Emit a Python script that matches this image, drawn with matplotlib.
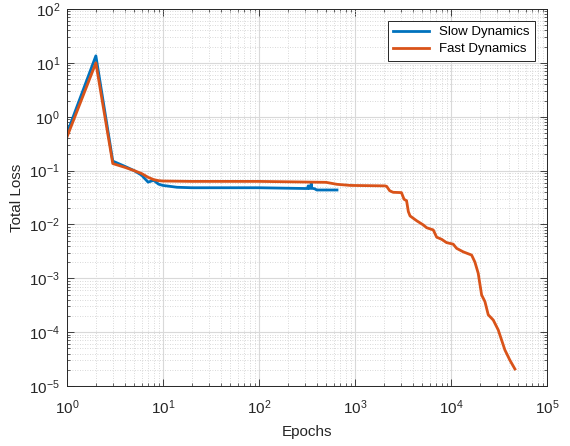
import matplotlib
matplotlib.use('Agg')
import matplotlib.pyplot as plt
from matplotlib.ticker import LogLocator, LogFormatterMathtext, NullFormatter

plt.rcParams['font.family'] = ['Liberation Sans', 'DejaVu Sans']
plt.rcParams['mathtext.fontset'] = 'custom'
plt.rcParams['mathtext.rm'] = 'Liberation Sans'
plt.rcParams['mathtext.it'] = 'Liberation Sans'
plt.rcParams['mathtext.default'] = 'regular'

# Data
slow_epochs = [1, 2, 3, 4, 5, 6, 7, 8, 9, 10, 14, 20, 100, 300, 320, 326, 332,
               345, 350, 355, 380, 400, 650]
slow_loss = [0.49, 13.5, 0.15, 0.12, 0.10, 0.082, 0.061, 0.066, 0.056, 0.053,
             0.049, 0.048, 0.048, 0.0465, 0.0465, 0.052, 0.0465, 0.047, 0.058,
             0.047, 0.046, 0.0436, 0.0436]

fast_epochs = [1, 2, 3, 4, 5, 6, 7, 8, 9, 10, 20, 100, 500, 650, 900, 2050,
               2140, 2300, 2500, 3050, 3250, 3450, 3600, 3750, 4400, 5150,
               5580, 6550, 7100, 8000, 9000, 10570, 11460, 13430, 16430,
               17780, 19240, 20880, 22600, 24480, 27600, 31100, 36500, 41200,
               46400]
fast_loss = [0.42, 10.0, 0.135, 0.115, 0.10, 0.088, 0.075, 0.068, 0.065, 0.064,
             0.063, 0.063, 0.0605, 0.0556, 0.053, 0.052, 0.051, 0.0423, 0.0395,
             0.039, 0.0293, 0.0276, 0.0173, 0.0144, 0.0117, 0.0098, 0.0087,
             0.0079, 0.0058, 0.0053, 0.0046, 0.0043, 0.0036, 0.0031, 0.0027,
             0.0020, 0.00124, 0.00049, 0.00037, 0.00021, 0.000168, 0.00011,
             4.67e-5, 3.0e-5, 2.07e-5]

fig = plt.figure(figsize=(5.7, 4.46), dpi=100)
ax = fig.add_axes([0.1175, 0.1345, 0.842, 0.8453])

ax.loglog(slow_epochs, slow_loss, color='#0072BD', lw=2.0, label='Slow Dynamics')
ax.loglog(fast_epochs, fast_loss, color='#D95319', lw=2.0, label='Fast Dynamics')

ax.set_xlim(1, 1e5)
ax.set_ylim(1e-5, 1e2)
ax.xaxis.set_major_locator(LogLocator(base=10, numticks=10))
ax.yaxis.set_major_locator(LogLocator(base=10, numticks=10))
ax.xaxis.set_minor_locator(LogLocator(base=10, subs=range(2, 10), numticks=20))
ax.yaxis.set_minor_locator(LogLocator(base=10, subs=range(2, 10), numticks=20))
ax.xaxis.set_major_formatter(LogFormatterMathtext())
ax.yaxis.set_major_formatter(LogFormatterMathtext())
ax.xaxis.set_minor_formatter(NullFormatter())
ax.yaxis.set_minor_formatter(NullFormatter())

ax.grid(True, which='major', color='#d9d9d9', lw=0.8, ls='-')
ax.grid(True, which='minor', color='#cccccc', lw=0.6, ls=(0, (1, 2)))
ax.set_axisbelow(True)

ax.tick_params(which='both', direction='in', top=True, right=True,
               labelsize=11, color='#262626', labelcolor='#262626')
ax.tick_params(which='major', length=5, width=0.6)
ax.tick_params(which='minor', length=2.5, width=0.5)
ax.tick_params(axis='x', which='major', pad=9)
ax.tick_params(axis='y', which='major', pad=5)
for s in ax.spines.values():
    s.set_color('#262626')
    s.set_linewidth(0.7)

ax.set_xlabel('Epochs', fontsize=11, color='#262626', labelpad=6)
ax.set_ylabel('Total Loss', fontsize=11, color='#262626', labelpad=4)

leg = ax.legend(loc='upper right', fontsize=9.5, fancybox=False,
                framealpha=1, edgecolor='#262626', handlelength=2.7,
                borderaxespad=0.9, labelspacing=0.35)
leg.get_frame().set_linewidth(0.7)

fig.savefig('out.png', dpi=100)
